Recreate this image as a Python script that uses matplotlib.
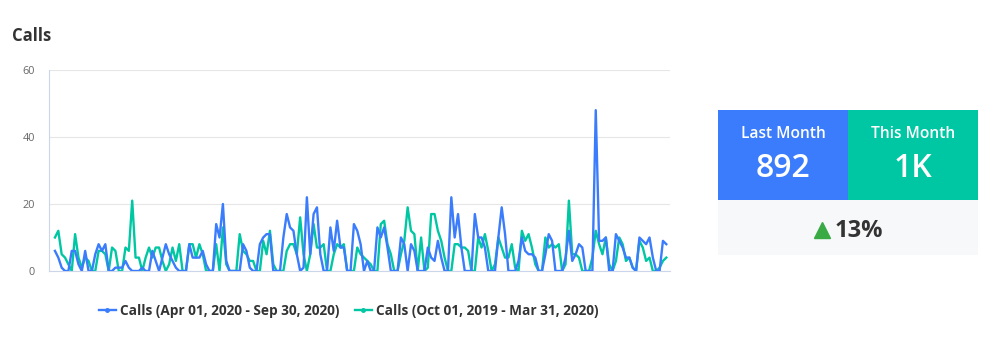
import matplotlib
matplotlib.use("Agg")
import numpy as np
from matplotlib import pyplot as plt
from matplotlib.lines import Line2D
from matplotlib.patches import Rectangle

plt.rcParams['font.family'] = ['Open Sans', 'DejaVu Sans']

title = "Calls"
label_current = "Calls (Apr 01, 2020 - Sep 30, 2020)"
label_previous = "Calls (Oct 01, 2019 - Mar 31, 2020)"
yticks = [0, 20, 40, 60]

# daily calls, current period (Apr - Sep 2020)
calls_current = [
    6, 4, 1, 0, 0, 6, 6, 2, 0, 6, 0, 0, 5, 8, 6, 8, 0, 0, 1, 1,
    1, 3, 1, 0, 0, 0, 1, 0, 0, 6, 3, 0, 4, 8, 5, 3, 1, 0, 0, 0,
    8, 4, 4, 4, 6, 2, 0, 0, 14, 10, 20, 3, 0, 0, 0, 0, 8, 6, 1, 0,
    0, 8, 10, 11, 11, 0, 0, 0, 10, 17, 13, 12, 5, 0, 1, 22, 5, 17, 19, 5,
    0, 0, 13, 6, 15, 7, 7, 0, 0, 14, 12, 8, 0, 3, 0, 0, 13, 10, 13, 7,
    0, 0, 0, 10, 8, 0, 8, 6, 0, 0, 0, 7, 4, 3, 9, 4, 0, 0, 22, 10,
    17, 7, 0, 0, 0, 17, 10, 10, 7, 0, 0, 0, 10, 19, 11, 0, 0, 0, 3, 10,
    6, 5, 5, 4, 0, 0, 5, 11, 9, 0, 0, 0, 4, 12, 3, 5, 8, 7, 0, 0,
    0, 48, 9, 9, 10, 0, 0, 11, 9, 7, 4, 4, 1, 0, 10, 9, 8, 10, 4, 0,
    0, 9, 8,
]

# daily calls, previous period (Oct 2019 - Mar 2020)
calls_previous = [
    10, 12, 5, 4, 2, 0, 11, 4, 1, 4, 3, 0, 0, 6, 6, 5, 0, 7, 6, 0,
    0, 7, 6, 21, 4, 4, 0, 4, 7, 4, 7, 7, 3, 0, 2, 7, 3, 8, 0, 0,
    8, 8, 4, 8, 5, 0, 0, 0, 8, 0, 13, 2, 0, 0, 0, 11, 6, 5, 3, 3,
    0, 0, 9, 5, 12, 2, 0, 0, 0, 6, 8, 8, 5, 16, 5, 0, 5, 14, 7, 7,
    8, 0, 0, 5, 8, 7, 8, 0, 0, 0, 7, 5, 4, 3, 2, 0, 0, 14, 15, 8,
    5, 0, 0, 5, 9, 19, 12, 11, 0, 10, 0, 1, 17, 17, 12, 9, 4, 0, 0, 8,
    8, 7, 7, 6, 0, 0, 10, 7, 11, 6, 0, 2, 10, 7, 4, 4, 8, 1, 0, 12,
    9, 11, 7, 2, 0, 0, 10, 7, 8, 7, 8, 0, 2, 21, 5, 5, 4, 0, 0, 0,
    4, 12, 8, 5, 10, 2, 0, 3, 10, 8, 3, 4, 1, 0, 9, 7, 3, 4, 0, 0,
    1, 3, 4,
]

last_month = "892"
this_month = "1K"
change = "13%"

blue = "#3b7cfd"
green = "#00c7a3"
dark = "#333333"

fig = plt.figure(figsize=(9.98, 3.39), dpi=100)

ax = fig.add_axes([0.049, 0.2006, 0.622, 0.593])
days = np.arange(len(calls_current))
ax.plot(days, calls_current, color=blue, lw=1.7, zorder=3)
ax.plot(days, calls_previous, color=green, lw=1.7, zorder=2)
ax.set_xlim(-1.8, len(days))
ax.set_ylim(0, 60)
ax.set_yticks(yticks)
ax.set_xticks([])
ax.tick_params(axis='y', length=0, labelsize=7.8, labelcolor="#666666", pad=10)
ax.grid(axis='y', color="#e6e6e6", lw=0.8)
ax.set_axisbelow(True)
for side in ["top", "right"]:
    ax.spines[side].set_visible(False)
ax.spines["left"].set_color("#ccd6eb")
ax.spines["bottom"].set_color("#ccd6eb")
ax.spines["left"].set_linewidth(0.8)
ax.spines["bottom"].set_linewidth(0.8)

handles = [
    Line2D([], [], color=blue, lw=1.7, marker='o', markersize=2.5),
    Line2D([], [], color=green, lw=1.7, marker='o', markersize=2.5),
]
ax.legend(handles, [label_current, label_previous], loc="center",
          bbox_to_anchor=(0.483, -0.2), ncol=2, frameon=False,
          handlelength=1.3, handletextpad=0.3, columnspacing=1.1,
          prop={'size': 9.8, 'weight': 'bold'}, labelcolor=dark)

fig.text(0.012, 0.893, title, fontsize=12, fontweight='bold', color=dark,
         va='center', ha='left')

# stat panel
pan = fig.add_axes([0.7194, 0.2478, 0.2605, 0.4277])
pan.set_xlim(0, 1)
pan.set_ylim(0, 1)
pan.axis("off")
split = 0.379
pan.add_patch(Rectangle((0, split), 0.5, 1 - split, color=blue, lw=0))
pan.add_patch(Rectangle((0.5, split), 0.5, 1 - split, color=green, lw=0))
pan.add_patch(Rectangle((0, 0), 1, split, color="#f7f8fa", lw=0))
pan.text(0.25, 0.834, "Last Month", color="white", fontsize=11.2,
         ha='center', va='center', fontweight='semibold')
pan.text(0.75, 0.834, "This Month", color="white", fontsize=11.2,
         ha='center', va='center', fontweight='semibold')
pan.text(0.25, 0.6, last_month, color="white", fontsize=23,
         ha='center', va='center', fontweight='semibold')
pan.text(0.75, 0.6, this_month, color="white", fontsize=23,
         ha='center', va='center', fontweight='semibold')
pan.plot([0.4], [0.172], marker='^', color="#3aaa45", markersize=11, lw=0)
pan.text(0.448, 0.165, change, color=dark, fontsize=17, ha='left',
         va='center', fontweight='bold')

fig.savefig("out.png", dpi=100)
